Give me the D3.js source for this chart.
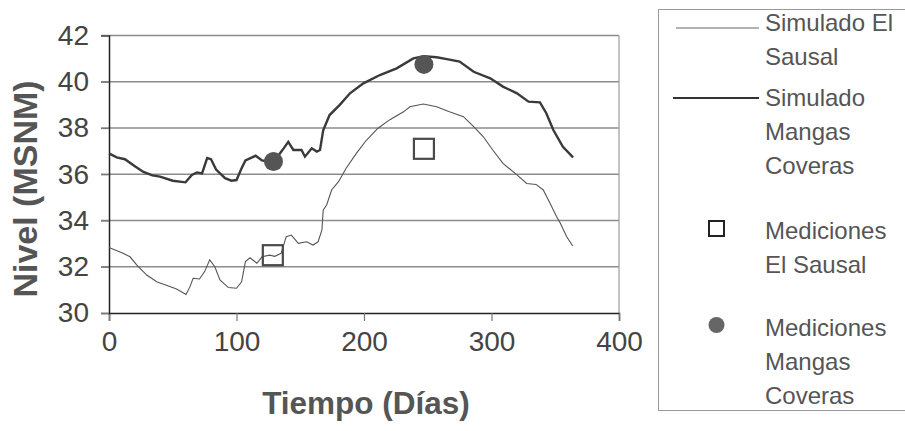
<!DOCTYPE html>
<html>
<head>
<meta charset="utf-8">
<script src="https://cdn.jsdelivr.net/npm/d3@7"></script>
<style>
  html, body { margin: 0; padding: 0; background: #fff; }
  svg { display: block; font-family: "Liberation Sans", Arial, sans-serif; }
</style>
</head>
<body>
<svg id="chart" width="905" height="431"></svg>
<script>
// --- datos ---
const xTicks = [0, 100, 200, 300, 400];
const yTicks = [30, 32, 34, 36, 38, 40, 42];

const mangasDias = [0, 6, 12.5, 20, 27, 34, 40, 50, 60, 65, 69, 73, 77, 80, 84, 91, 96, 100, 104, 107, 111, 115, 120, 125, 130, 134, 137, 140.6, 144.6, 151, 153.7, 159, 163, 165.5, 168, 173, 181, 189, 199.5, 212.5, 225.6, 238.7, 247, 257, 266, 275, 286, 299, 309, 320, 329, 338, 343, 348.5, 356, 364];
const mangasNivel = [36.9, 36.73, 36.65, 36.36, 36.1, 35.95, 35.9, 35.72, 35.65, 35.97, 36.08, 36.04, 36.7, 36.65, 36.2, 35.83, 35.72, 35.75, 36.26, 36.6, 36.7, 36.8, 36.6, 36.55, 36.6, 36.9, 37.12, 37.4, 37.05, 37.05, 36.76, 37.12, 36.98, 37.05, 37.9, 38.56, 39.0, 39.5, 39.93, 40.29, 40.58, 41.01, 41.1, 41.06, 40.97, 40.87, 40.43, 40.15, 39.79, 39.5, 39.14, 39.11, 38.64, 37.91, 37.19, 36.73];

const sausalDias = [0, 11, 16.5, 21.7, 29.6, 37.4, 45, 53, 60.4, 63.5, 66, 71, 75, 79, 83, 87, 93.6, 100, 104, 107, 110.6, 116, 120, 126, 130, 135, 139, 143, 148.5, 155, 160, 164, 167, 168, 170.7, 174.6, 180, 186, 194, 202, 211, 220, 231, 236, 246.5, 257, 267, 278, 286, 293.6, 301, 309, 320, 327.6, 335, 340.6, 346, 351, 354, 359, 363.7];
const sausalNivel = [32.83, 32.58, 32.43, 32.08, 31.64, 31.35, 31.2, 31.04, 30.8, 31.14, 31.5, 31.47, 31.79, 32.3, 32.0, 31.43, 31.1, 31.07, 31.35, 32.22, 32.39, 32.15, 32.43, 32.5, 32.45, 32.58, 33.3, 33.37, 33.01, 33.08, 32.94, 33.08, 33.59, 34.45, 34.67, 35.32, 35.68, 36.26, 36.9, 37.48, 37.99, 38.35, 38.7, 38.92, 39.04, 38.92, 38.7, 38.49, 38.06, 37.62, 37.05, 36.47, 35.97, 35.6, 35.56, 35.32, 34.74, 34.17, 33.88, 33.3, 32.9];

const medSausalDias = [128.5, 247];
const medSausalNivel = [32.5, 37.1];
const medMangasDias = [129, 247];
const medMangasNivel = [36.55, 40.75];

const legendLabels = [
  ["Simulado El", "Sausal"],
  ["Simulado", "Mangas", "Coveras"],
  ["Mediciones", "El Sausal"],
  ["Mediciones", "Mangas", "Coveras"]
];

// --- escalas ---
const svg = d3.select("#chart");
const x = d3.scaleLinear().domain([0, 400]).range([109, 619]);
const y = d3.scaleLinear().domain([30, 42]).range([313, 35.5]);

// cuadrícula
svg.append("g")
  .selectAll("line")
  .data(yTicks.filter(d => d > 30))
  .join("line")
  .attr("x1", x(0) - 8).attr("x2", x(400))
  .attr("y1", d => y(d)).attr("y2", d => y(d))
  .attr("stroke", "#8c8c8c")
  .attr("stroke-width", 1.5);

// borde derecho
svg.append("line")
  .attr("x1", x(400)).attr("x2", x(400))
  .attr("y1", y(42)).attr("y2", y(30))
  .attr("stroke", "#9a9a9a").attr("stroke-width", 1.2);

// ejes
const xAxis = svg.append("g")
  .attr("transform", `translate(0,${y(30)})`)
  .call(d3.axisBottom(x).tickValues(xTicks).tickSize(8).tickPadding(10));
const yAxis = svg.append("g")
  .attr("transform", `translate(${x(0)},0)`)
  .call(d3.axisLeft(y).tickValues(yTicks).tickSize(8).tickPadding(12));

[xAxis, yAxis].forEach(g => {
  g.select(".domain").attr("stroke", "#222").attr("stroke-width", 1.5);
  g.selectAll(".tick line").attr("stroke", "#777").attr("stroke-width", 1.2);
  g.selectAll(".tick text")
    .attr("font-family", "'Liberation Sans', Arial, sans-serif")
    .attr("font-size", 28)
    .attr("fill", "#444");
});
xAxis.selectAll(".tick text").attr("dy", "0.71em");

// títulos
svg.append("text")
  .attr("x", 366).attr("y", 414)
  .attr("text-anchor", "middle")
  .attr("font-size", 31.5).attr("font-weight", "bold")
  .attr("fill", "#555")
  .text("Tiempo (Días)");

svg.append("text")
  .attr("transform", "translate(37,189) rotate(-90)")
  .attr("text-anchor", "middle")
  .attr("font-size", 34).attr("font-weight", "bold")
  .attr("fill", "#555")
  .text("Nivel (MSNM)");

// líneas
const line = d3.line().x(d => x(d[0])).y(d => y(d[1]));

svg.append("path")
  .datum(d3.zip(sausalDias, sausalNivel))
  .attr("d", line)
  .attr("fill", "none")
  .attr("stroke", "#555")
  .attr("stroke-width", 1.1);

svg.append("path")
  .datum(d3.zip(mangasDias, mangasNivel))
  .attr("d", line)
  .attr("fill", "none")
  .attr("stroke", "#3a3a3a")
  .attr("stroke-width", 2.4);

// mediciones
svg.append("g")
  .selectAll("rect")
  .data(d3.zip(medSausalDias, medSausalNivel))
  .join("rect")
  .attr("x", d => x(d[0]) - 10).attr("y", d => y(d[1]) - 10)
  .attr("width", 20).attr("height", 20)
  .attr("fill", "none")
  .attr("stroke", "#4a4a4a")
  .attr("stroke-width", 2.2);

svg.append("g")
  .selectAll("circle")
  .data(d3.zip(medMangasDias, medMangasNivel))
  .join("circle")
  .attr("cx", d => x(d[0])).attr("cy", d => y(d[1]))
  .attr("r", 9.5)
  .attr("fill", "#555");

// leyenda
const legend = svg.append("g");
legend.append("rect")
  .attr("x", 658.5).attr("y", 9.5)
  .attr("width", 260).attr("height", 401)
  .attr("fill", "none")
  .attr("stroke", "#999")
  .attr("stroke-width", 1);

const legendTop = [31, 106, 239, 336];
legendLabels.forEach((lines, i) => {
  legend.append("text")
    .attr("font-size", 24)
    .attr("fill", "#555")
    .selectAll("tspan")
    .data(lines)
    .join("tspan")
    .attr("x", 765)
    .attr("y", (d, j) => legendTop[i] + j * 34)
    .text(d => d);
});

legend.append("line")
  .attr("x1", 676).attr("x2", 759).attr("y1", 28).attr("y2", 28)
  .attr("stroke", "#999").attr("stroke-width", 1.5);
legend.append("line")
  .attr("x1", 673).attr("x2", 759).attr("y1", 98).attr("y2", 98)
  .attr("stroke", "#333").attr("stroke-width", 2);
legend.append("rect")
  .attr("x", 709).attr("y", 221).attr("width", 15).attr("height", 15)
  .attr("fill", "none").attr("stroke", "#222").attr("stroke-width", 2);
legend.append("circle")
  .attr("cx", 716.5).attr("cy", 325).attr("r", 8)
  .attr("fill", "#666");
</script>
</body>
</html>
